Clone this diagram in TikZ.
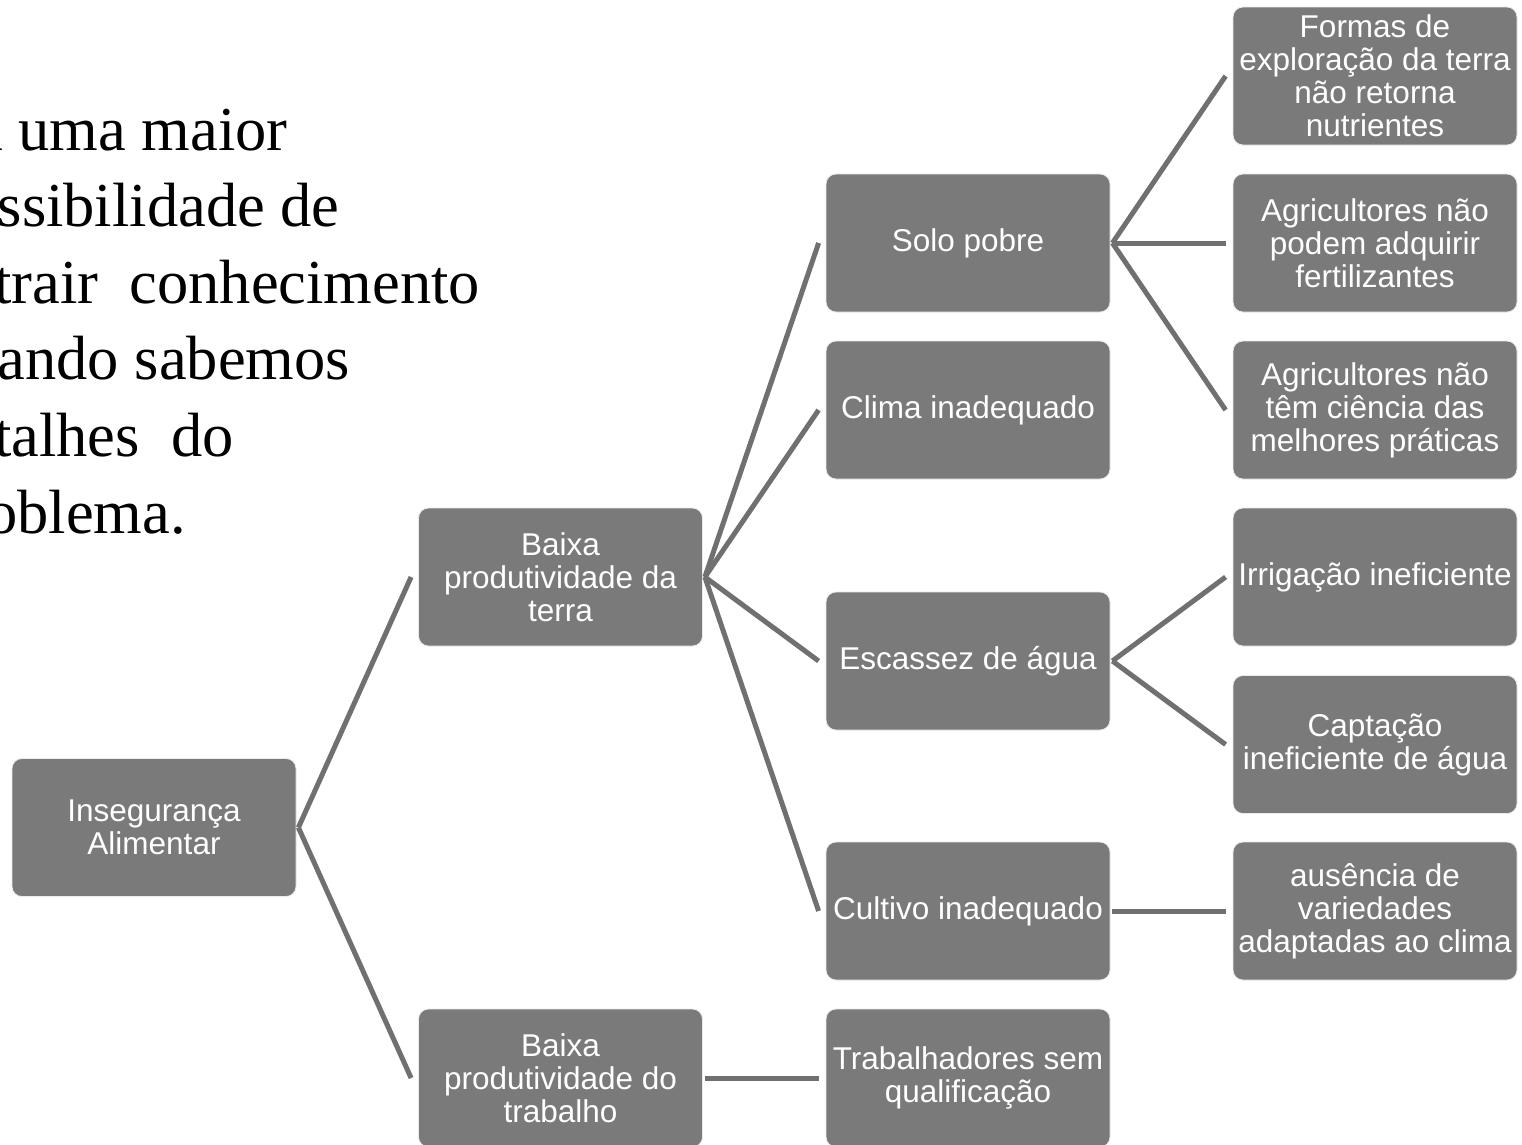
\documentclass[tikz,border=0pt]{standalone}
\usepackage{fontspec}
\setmainfont{Liberation Serif}
\newfontfamily\boxfont{Liberation Sans}
\definecolor{boxgray}{RGB}{122,122,122}
\definecolor{linegray}{RGB}{112,112,112}
\tikzset{
  box/.style={rectangle, rounded corners=10pt, fill=boxgray, draw=white!85!boxgray, line width=0.8pt,
    minimum width=284pt, minimum height=138pt, inner sep=0pt, align=center, text=white,
    font=\boxfont\fontsize{31.5}{33}\selectfont},
  conn/.style={draw=linegray, line width=5pt},
  para/.style={anchor=base west, inner sep=0pt, font=\fontsize{62.5}{76}\selectfont}
}
\newcommand{\lnk}[2]{\draw[conn] ([xshift=2pt]#1.east) -- ([xshift=-7pt]#2.west);}
\begin{document}
\begin{tikzpicture}[x=1pt,y=-1pt]
\useasboundingbox (0,0) rectangle (1522,1144);
\clip (0,0) rectangle (1522,1144);
\fill[white] (0,0) rectangle (1522,1144);
% paragraph (its left part lies beyond the picture's left edge, as in the reference)
\node[para] (p1) at (-70,150) {Há uma maior};
\node[para] (p2) at (-65,226.6) {possibilidade de};
\node[para] (p3) at (-65,303.2) {extrair\ \ conhecimento};
\node[para] (p4) at (-65,379.8) {quando sabemos};
\node[para] (p5) at (-65,456.4) {detalhes\ \ do};
\node[para] (p6) at (-66,533) {problema.};
% boxes
\node[box] (ins) at (154,827.5) {Insegurança\\Alimentar};
\node[box] (bt) at (560.5,577) {Baixa\\produtividade da\\terra};
\node[box] (bw) at (560.5,1078) {Baixa\\produtividade do\\trabalho};
\node[box] (solo) at (968,243) {Solo pobre};
\node[box] (clima) at (968,410) {Clima inadequado};
\node[box] (esc) at (968,661) {Escassez de água};
\node[box] (cult) at (968,911) {Cultivo inadequado};
\node[box] (trab) at (968,1078) {Trabalhadores sem\\qualificação};
\node[box] (f1) at (1375,76) {Formas de\\exploração da terra\\não retorna\\nutrientes};
\node[box] (f2) at (1375,243) {Agricultores não\\podem adquirir\\fertilizantes};
\node[box] (f3) at (1375,410) {Agricultores não\\têm ciência das\\melhores práticas};
\node[box] (f4) at (1375,577) {Irrigação ineficiente};
\node[box] (f5) at (1375,744.5) {Captação\\ineficiente de água};
\node[box] (f6) at (1375,911) {ausência de\\variedades\\adaptadas ao clima};
% connectors
\lnk{ins}{bt}
\lnk{ins}{bw}
\lnk{bt}{solo}
\lnk{bt}{clima}
\lnk{bt}{esc}
\lnk{bt}{cult}
\lnk{bw}{trab}
\lnk{solo}{f1}
\lnk{solo}{f2}
\lnk{solo}{f3}
\lnk{esc}{f4}
\lnk{esc}{f5}
\lnk{cult}{f6}
\end{tikzpicture}
\end{document}
